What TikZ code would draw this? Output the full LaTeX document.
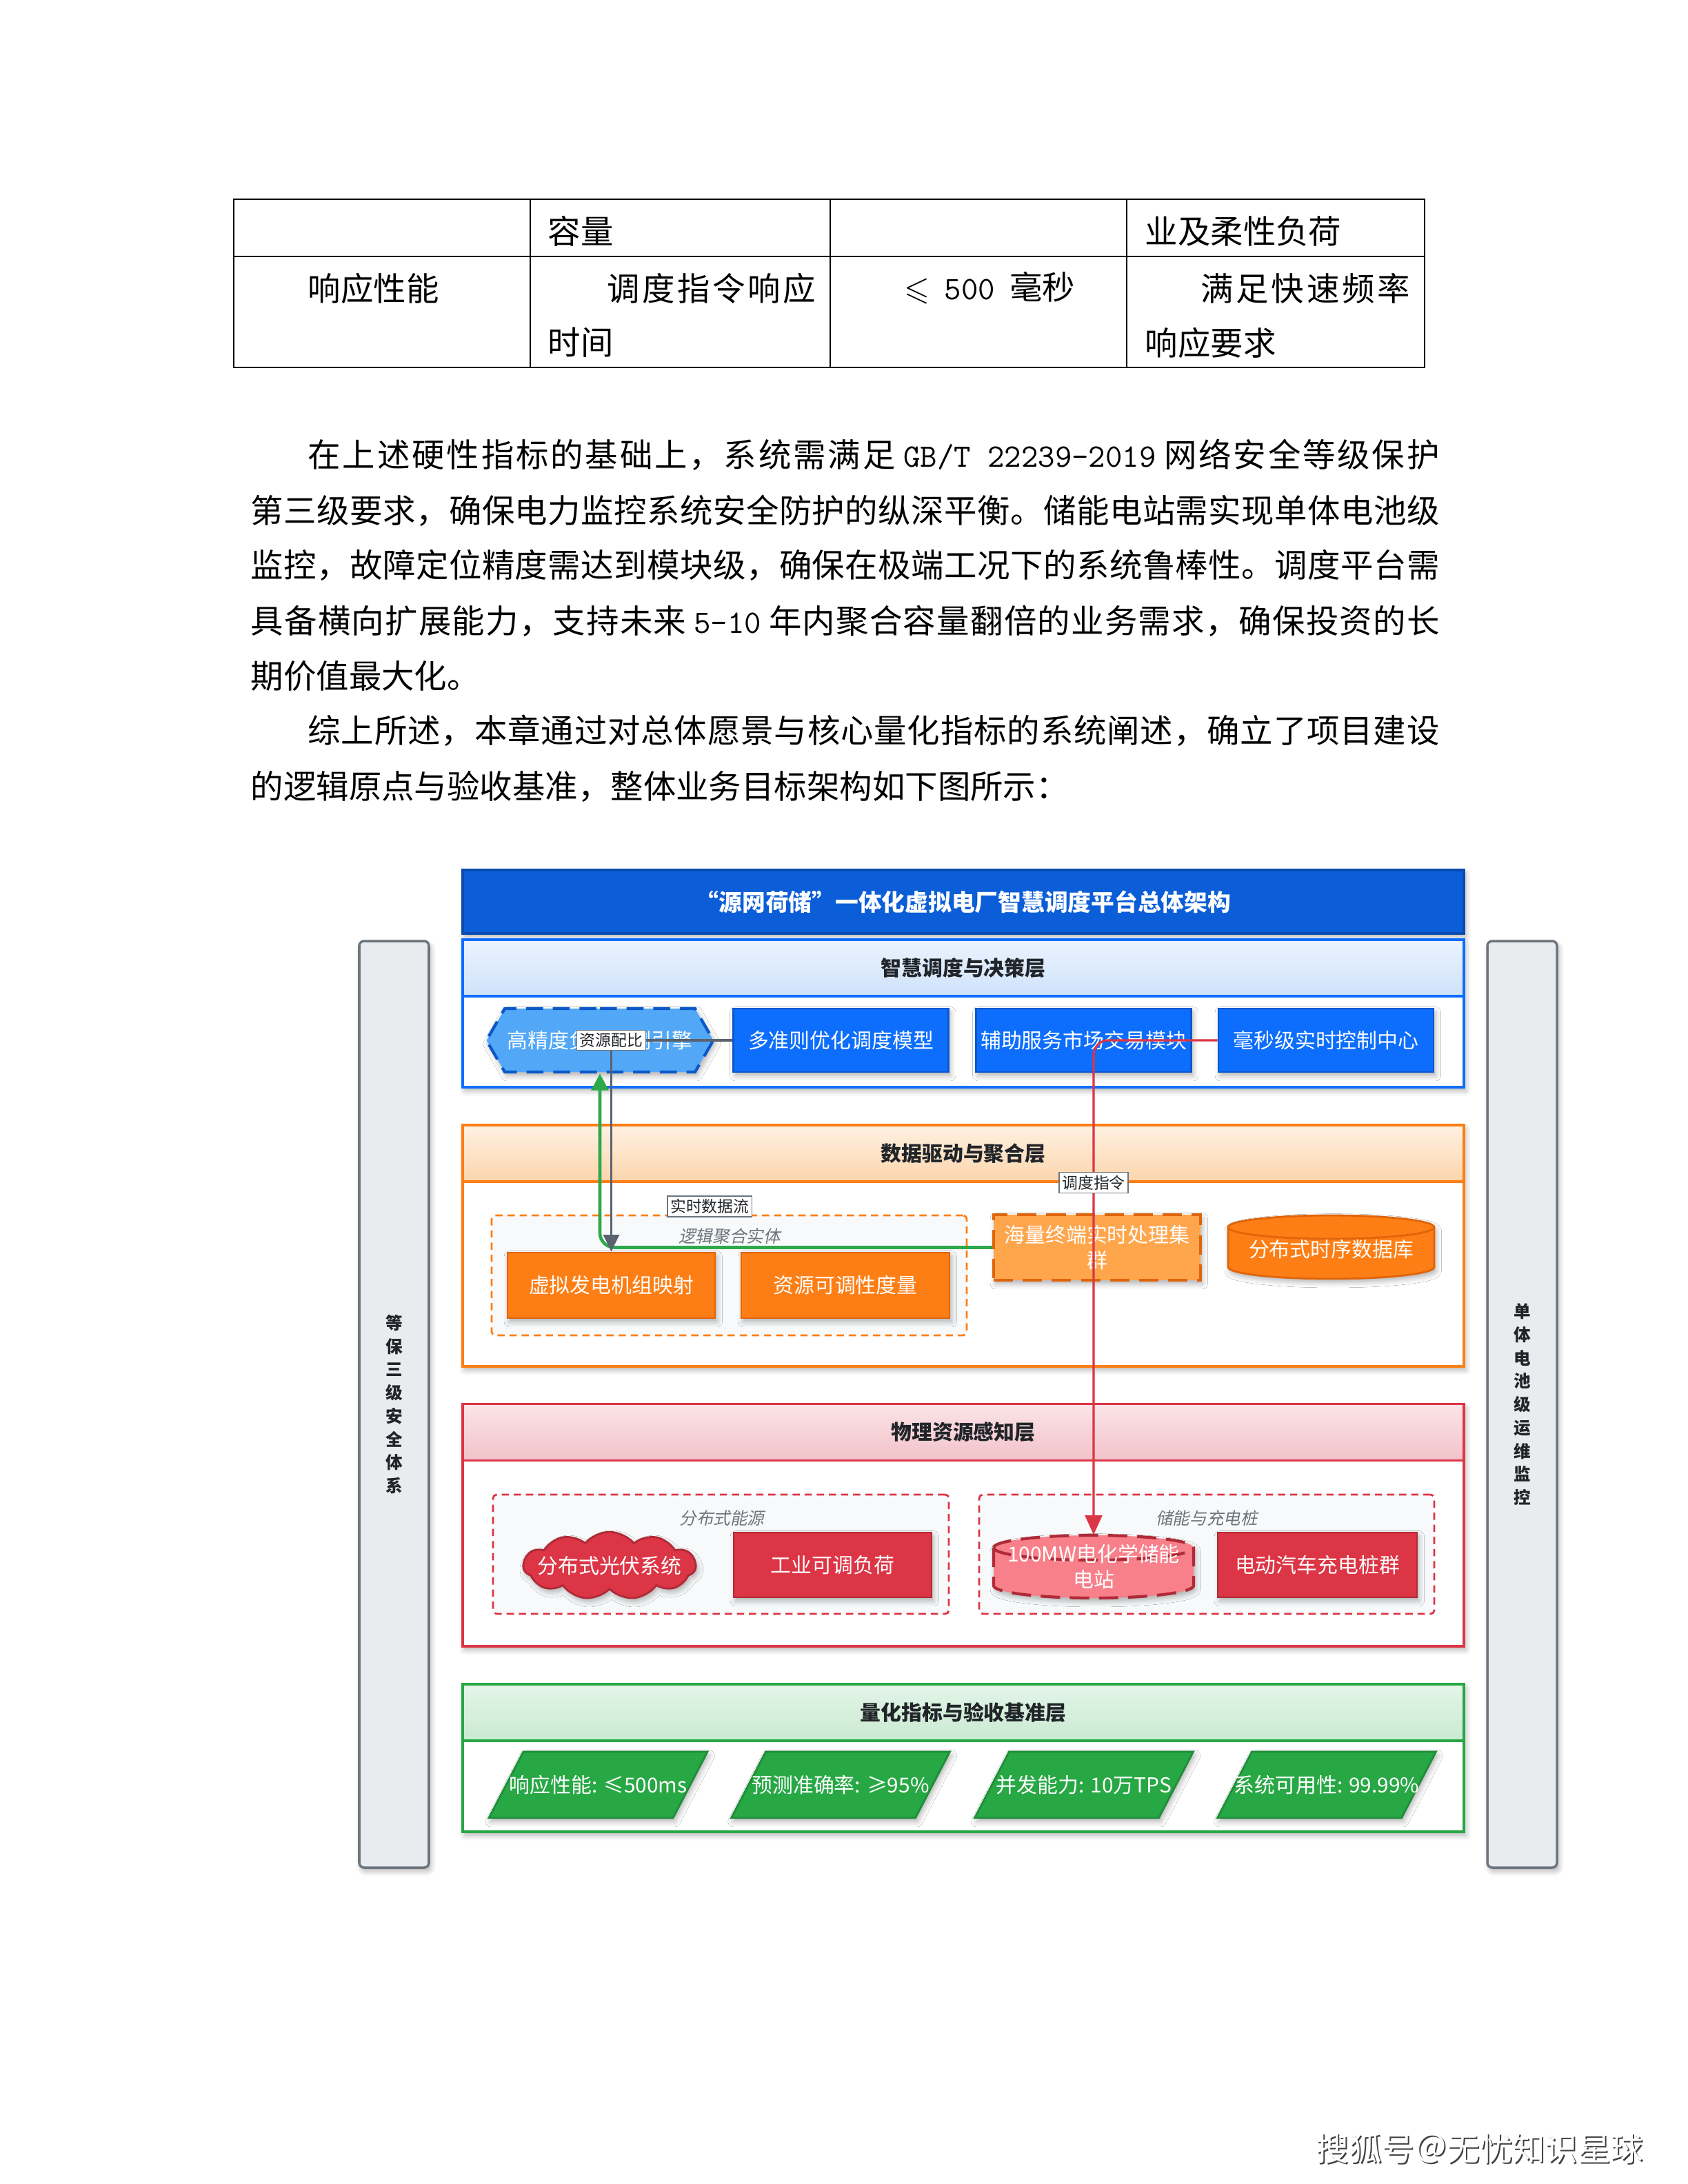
\documentclass[tikz,border=0pt]{standalone}
\usepackage{amssymb}
\usepackage{fontspec}
\setmainfont{Noto Sans CJK SC}
\newfontfamily\slcjk[FakeSlant=0.2]{Noto Sans CJK SC}
\usepackage{tikz}
\usetikzlibrary{arrows.meta,positioning,shapes.symbols,shadows.blur}
\newcount\cjkidx
\cjkidx="4E00
\loop
  \XeTeXcharclass\cjkidx=1
  \advance\cjkidx by 1
\ifnum\cjkidx<"A000 \repeat
\XeTeXcharclass"FF0C=3
\XeTeXcharclass"3002=3
\XeTeXcharclass"FF1A=3
\XeTeXinterchartokenstate=1
\XeTeXinterchartoks 1 1 = {\nobreak\hskip0pt plus 4pt\relax}
\XeTeXinterchartoks 1 3 = {\nobreak\hskip0pt plus 4pt\relax}
\XeTeXinterchartoks 3 1 = {\nobreak\hskip0pt plus 4pt\relax}
\newcommand\jline[2]{\hbox to #1{#2}}
\definecolor{titlec}{HTML}{0B5ED7}
\definecolor{titledk}{HTML}{0A4BAE}
\definecolor{bluec}{HTML}{0D6EFD}
\definecolor{bluedk}{HTML}{0A58CA}
\definecolor{bluelt}{HTML}{52A8F7}
\definecolor{orangec}{HTML}{FD7E14}
\definecolor{orangedk}{HTML}{E0650A}
\definecolor{orangelt}{HTML}{FFA64D}
\definecolor{redc}{HTML}{DC3545}
\definecolor{reddk}{HTML}{B02A37}
\definecolor{redlt}{HTML}{F7808A}
\definecolor{greenc}{HTML}{28A745}
\definecolor{greendk}{HTML}{1E8E3A}
\definecolor{grayc}{HTML}{6C757D}
\definecolor{barc}{HTML}{E9ECEF}
\definecolor{grpbg}{HTML}{F8F9FA}
\definecolor{textdk}{HTML}{212529}
\definecolor{bluehi}{HTML}{EBF3FE}
\definecolor{bluelo}{HTML}{CFE2FA}
\definecolor{orangehi}{HTML}{FFF1E2}
\definecolor{orangelo}{HTML}{FCD5AC}
\definecolor{redhi}{HTML}{FBE4E7}
\definecolor{redlo}{HTML}{F2C2C9}
\definecolor{greenhi}{HTML}{E4F5E8}
\definecolor{greenlo}{HTML}{C9EAD1}
\definecolor{linegray}{HTML}{5A6270}
\definecolor{linegreen}{HTML}{2EA84A}

\begin{document}
\begin{tikzpicture}[
  body/.style={anchor=west, inner sep=0pt, font=\fontsize{13.5}{20}\selectfont},
  softshadow/.style={blur shadow={shadow blur steps=5, shadow xshift=0.8pt, shadow yshift=-1.5pt, shadow opacity=30}},
  layer/.style={draw=#1, line width=0.9pt, fill=white, minimum width=14.52cm, softshadow},
  head/.style n args={3}{draw=#1, top color=#2, bottom color=#3, line width=0.9pt,
    minimum width=14.52cm, minimum height=0.82cm, text=textdk, font=\fontsize{8.5}{10}\selectfont\bfseries},
  box/.style 2 args={fill=#1, draw=#2, line width=0.8pt, text=white, minimum width=3.12cm,
    minimum height=0.92cm, inner sep=1pt, align=center, font=\fontsize{8.5}{10.5}\selectfont, softshadow},
  grp/.style={draw=#1, dash pattern=on 3pt off 2pt, line width=0.8pt, fill=grpbg, rounded corners=1.5pt},
  grplbl/.style={font=\slcjk\fontsize{7}{8}\selectfont, text=grayc},
  elbl/.style={draw=grayc, line width=0.4pt, fill=white, sharp corners, inner sep=1.2pt, text=textdk, font=\fontsize{6.5}{7.5}\selectfont},
  sidebar/.style={draw=grayc, line width=1pt, fill=barc, rounded corners=2pt, minimum width=1.01cm,
    minimum height=13.44cm, align=center, text=textdk, font=\fontsize{7}{9.6}\selectfont\bfseries, softshadow},
  kpitext/.style={text=white, font=\fontsize{8.5}{10}\selectfont},
  gline/.style={draw=linegray, line width=0.9pt, -{Triangle[length=7pt,width=6.5pt]}},
  greenl/.style={draw=linegreen, line width=1.3pt, rounded corners=6pt, -{Triangle[length=7pt,width=7pt]}},
  redl/.style={draw=redc, line width=0.9pt, rounded corners=6pt, -{Triangle[length=8pt,width=7pt]}}]
  \useasboundingbox (0,0) rectangle (24.48,-31.68);

  \draw[line width=0.7pt] (3.39,-2.89) rectangle (20.66,-5.33);
  \draw[line width=0.7pt] (3.39,-3.72) -- (20.66,-3.72);
  \draw[line width=0.7pt] (7.69,-2.89) -- (7.69,-5.33);
  \draw[line width=0.7pt] (12.04,-2.89) -- (12.04,-5.33);
  \draw[line width=0.7pt] (16.34,-2.89) -- (16.34,-5.33);
  \node[body] (t1) at (7.94,-3.35) {容量};
  \node[body] (t2) at (16.60,-3.35) {业及柔性负荷};
  \node[body] (t3) at (4.46,-4.18) {响应性能};
  \node[body] (t4) at (8.80,-4.18) {\jline{3.02cm}{调度指令响应}};
  \node[body] (t5) at (7.94,-4.97) {时间};
  \node[body] (t6) at (13.11,-4.18) {$\leqslant$\ \ \texttt{500} \ 毫秒};
  \node[body] (t7) at (17.41,-4.18) {\jline{3.03cm}{满足快速频率}};
  \node[body] (t8) at (16.60,-4.97) {响应要求};

  \node[body] (p1) at (4.46,-6.60) {\jline{16.41cm}{在上述硬性指标的基础上，系统需满足 \texttt{GB/T 22239-2019} 网络安全等级保护}};
  \node[body] (p2) at (3.63,-7.41) {\jline{17.24cm}{第三级要求，确保电力监控系统安全防护的纵深平衡。储能电站需实现单体电池级}};
  \node[body] (p3) at (3.63,-8.20) {\jline{17.24cm}{监控，故障定位精度需达到模块级，确保在极端工况下的系统鲁棒性。调度平台需}};
  \node[body] (p4) at (3.63,-9.01) {\jline{17.24cm}{具备横向扩展能力，支持未来 \texttt{5-10} 年内聚合容量翻倍的业务需求，确保投资的长}};
  \node[body] (p5) at (3.63,-9.81) {期价值最大化。};
  \node[body] (p6) at (4.46,-10.60) {\jline{16.41cm}{综上所述，本章通过对总体愿景与核心量化指标的系统阐述，确立了项目建设}};
  \node[body] (p7) at (3.63,-11.41) {的逻辑原点与验收基准，整体业务目标架构如下图所示：};

  \node[sidebar] (secbar) at (5.715,-20.37) {等\\保\\三\\级\\安\\全\\体\\系};
  \node[sidebar] (opsbar) at (22.075,-20.37) {单\\体\\电\\池\\级\\运\\维\\监\\控};

  \node[fill=titlec, draw=titledk, line width=0.9pt, minimum width=14.52cm, minimum height=0.92cm,
    text=white, font=\fontsize{9.6}{11}\selectfont\bfseries, softshadow] (title) at (13.97,-13.08)
    {“源网荷储”一体化虚拟电厂智慧调度平台总体架构};

  \node[layer=bluec, minimum height=2.14cm] (L1) at (13.97,-14.70) {};
  \node[head={bluec}{bluehi}{bluelo}] (L1h) at (13.97,-14.04) {智慧调度与决策层};
  \node[layer=orangec, minimum height=3.50cm] (L2) at (13.97,-18.07) {};
  \node[head={orangec}{orangehi}{orangelo}] (L2h) at (13.97,-16.73) {数据驱动与聚合层};
  \node[layer=redc, minimum height=3.51cm] (L3) at (13.97,-22.125) {};
  \node[head={redc}{redhi}{redlo}] (L3h) at (13.97,-20.775) {物理资源感知层};
  \node[layer=greenc, minimum height=2.14cm] (L4) at (13.97,-25.50) {};
  \node[head={greenc}{greenhi}{greenlo}] (L4h) at (13.97,-24.84) {量化指标与验收基准层};

  \node[box={bluelt}{bluedk}, signal, signal to=west and east, signal pointer angle=120,
    dash pattern=on 7pt off 4pt, line width=1.2pt, minimum width=3.08cm] (hex) at (8.70,-15.09) {高精度负荷预测引擎};
  \node[box={bluec}{bluedk}] (model) at (12.195,-15.09) {多准则优化调度模型};
  \node[box={bluec}{bluedk}] (market) at (15.715,-15.09) {辅助服务市场交易模块};
  \node[box={bluec}{bluedk}] (ctrl) at (19.23,-15.09) {毫秒级实时控制中心};

  \node[grp=orangec, minimum width=6.89cm, minimum height=1.74cm] (grp1) at (10.575,-18.50) {};
  \node[grplbl] (grp1l) at (10.58,-17.93) {逻辑聚合实体};
  \node[box={orangec}{orangedk}, minimum width=3.01cm, minimum height=0.95cm] (vgen) at (8.865,-18.645) {虚拟发电机组映射};
  \node[box={orangec}{orangedk}, minimum width=3.02cm, minimum height=0.95cm] (adj) at (12.26,-18.645) {资源可调性度量};
  \node[box={orangelt}{orangedk}, dash pattern=on 8pt off 4pt, line width=1.2pt, minimum width=3.00cm,
    minimum height=0.95cm] (cluster) at (15.91,-18.095) {海量终端实时处理集\\群};
  \fill[orangec, draw=orangedk, line width=0.8pt, softshadow] (17.81,-17.80) -- (17.81,-18.38)
    arc[start angle=180, end angle=360, x radius=1.495, y radius=0.17] -- (20.80,-17.80)
    arc[start angle=0, end angle=180, x radius=1.495, y radius=0.17] -- cycle;
  \draw[orangedk, line width=0.8pt] (17.81,-17.80) arc[start angle=180, end angle=360, x radius=1.495, y radius=0.17];
  \node[text=white, font=\fontsize{8.5}{10.5}\selectfont, minimum width=2.99cm, minimum height=0.92cm] (tsdb) at (19.305,-18.12) {分布式时序数据库};

  \node[grp=redc, minimum width=6.61cm, minimum height=1.73cm] (grp2) at (10.455,-22.545) {};
  \node[grplbl] (grp2l) at (10.47,-22.02) {分布式能源};
  \node[grp=redc, minimum width=6.60cm, minimum height=1.73cm] (grp3) at (17.50,-22.545) {};
  \node[grplbl] (grp3l) at (17.50,-22.02) {储能与充电桩};
  \node[box={redc}{reddk}, cloud, cloud puffs=11, cloud puff arc=100, aspect=3.6, inner xsep=-5pt, inner ysep=0pt,
    minimum width=2.5cm, minimum height=0.8cm] (pv) at (8.84,-22.71) {分布式光伏系统};
  \node[box={redc}{reddk}, minimum width=2.87cm, minimum height=0.94cm] (load) at (12.075,-22.70) {工业可调负荷};
  \fill[redlt, draw=reddk, dash pattern=on 8pt off 4pt, line width=1.2pt, softshadow] (14.41,-22.45) -- (14.41,-23.00)
    arc[start angle=180, end angle=360, x radius=1.45, y radius=0.18] -- (17.31,-22.45)
    arc[start angle=0, end angle=180, x radius=1.45, y radius=0.18] -- cycle;
  \draw[reddk, dash pattern=on 8pt off 4pt, line width=1.2pt] (14.41,-22.45) arc[start angle=180, end angle=360, x radius=1.45, y radius=0.18];
  \node[text=white, align=center, font=\fontsize{8.5}{10.5}\selectfont, minimum width=2.90cm, minimum height=0.91cm] (bess) at (15.86,-22.725) {100MW电化学储能\\电站};
  \node[box={redc}{reddk}, minimum width=2.89cm, minimum height=0.94cm] (ev) at (19.105,-22.70) {电动汽车充电桩群};

  \fill[greenc, draw=greendk, line width=0.8pt, softshadow] (7.09,-26.37) -- (7.59,-25.41) -- (10.26,-25.41) -- (9.76,-26.37) -- cycle;
  \node[kpitext] (kpi1) at (8.675,-25.89) {响应性能: ≤500ms};
  \fill[greenc, draw=greendk, line width=0.8pt, softshadow] (10.605,-26.37) -- (11.105,-25.41) -- (13.775,-25.41) -- (13.275,-26.37) -- cycle;
  \node[kpitext] (kpi2) at (12.19,-25.89) {预测准确率: ≥95\%};
  \fill[greenc, draw=greendk, line width=0.8pt, softshadow] (14.135,-26.37) -- (14.635,-25.41) -- (17.305,-25.41) -- (16.805,-26.37) -- cycle;
  \node[kpitext] (kpi3) at (15.72,-25.89) {并发能力: 10万TPS};
  \fill[greenc, draw=greendk, line width=0.8pt, softshadow] (17.655,-26.37) -- (18.155,-25.41) -- (20.825,-25.41) -- (20.325,-26.37) -- cycle;
  \node[kpitext] (kpi4) at (19.24,-25.89) {系统可用性: 99.99\%};

  \draw[greenl] (cluster.west) -| node[elbl, pos=0.36, above=0.44cm] (flowl) {实时数据流} (hex.south);
  \draw[gline] (model.west) -| node[elbl, pos=0.5] (ratiol) {资源配比} (vgen.north);
  \draw[redl] (ctrl.west) -| node[elbl, pos=0.644] (cmdl) {调度指令} (bess.north);

  \node[text=black!75, font=\fontsize{13.5}{16}\selectfont] (sohus) at (21.48,-31.18) {搜狐号＠无忧知识星球};
  \node[text=white, font=\fontsize{13.5}{16}\selectfont] (sohu) at (21.46,-31.16) {搜狐号＠无忧知识星球};
\end{tikzpicture}
\end{document}
